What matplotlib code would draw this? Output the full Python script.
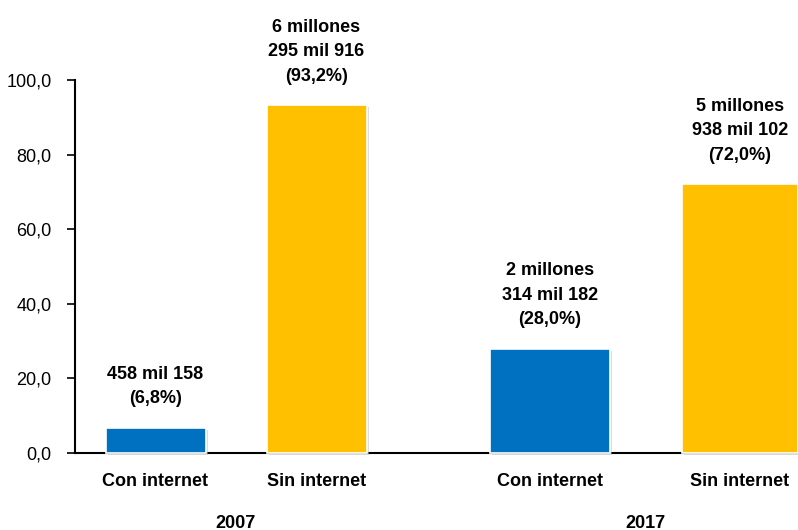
import matplotlib
matplotlib.use("Agg")
import matplotlib.pyplot as plt
from matplotlib.ticker import FuncFormatter
import matplotlib.patheffects as pe

# Data
years = ["2007", "2017"]
categories = ["Con internet", "Sin internet"]
values_2007 = [6.8, 93.2]
values_2017 = [28.0, 72.0]
labels_2007 = ["458 mil 158\n(6,8%)", "6 millones\n295 mil 916\n(93,2%)"]
labels_2017 = ["2 millones\n314 mil 182\n(28,0%)", "5 millones\n938 mil 102\n(72,0%)"]
colors = ["#0070C0", "#FFC000"]

plt.rcParams['font.family'] = ['Liberation Sans', 'DejaVu Sans']

fig = plt.figure(figsize=(7.98, 5.30), dpi=100)
ax = fig.add_axes([75/798, 1 - 453/530, 1 - 75/798, (453 - 80)/530])

# layout (in units of ~100px)
group_centers = [1.61, 5.70]
offsets = [[-0.805, 0.805], [-0.95, 0.95]]
widths = [[1.0, 1.0], [1.2, 1.16]]

shadow = [pe.SimplePatchShadow(offset=(1.5, -1.5), shadow_rgbFace="#bbbbbb", alpha=0.5), pe.Normal()]

all_vals = [values_2007, values_2017]
all_labels = [labels_2007, labels_2017]
for g in range(2):
    for j in range(2):
        x = group_centers[g] + offsets[g][j]
        v = all_vals[g][j]
        bars = ax.bar(x, v, width=widths[g][j], color=colors[j], edgecolor="white",
                      linewidth=1.2, zorder=3, clip_on=False)
        for b in bars:
            b.set_path_effects(shadow)
        ax.annotate(all_labels[g][j], xy=(x, v), xytext=(0, 15),
                    textcoords="offset points", ha="center", va="bottom",
                    fontsize=13, fontweight="bold", linespacing=1.55)
        ax.text(x, -5.3, categories[j], ha="center", va="top",
                fontsize=13, fontweight="bold")
    ax.text(group_centers[g], -16.5, years[g], ha="center", va="top",
            fontsize=13, fontweight="bold")

ax.set_xlim(0, 7.23)
ax.set_ylim(0, 100)
ax.set_yticks([0, 20, 40, 60, 80, 100])
ax.yaxis.set_major_formatter(FuncFormatter(lambda v, p: f"{v:.1f}".replace(".", ",")))
ax.tick_params(axis="y", length=6, width=1.2, labelsize=13, direction="out", pad=11)
ax.set_xticks([])
for s in ["top", "right"]:
    ax.spines[s].set_visible(False)
ax.spines["left"].set_linewidth(1.5)
ax.spines["bottom"].set_linewidth(1.5)

fig.savefig("out.png", dpi=100)
